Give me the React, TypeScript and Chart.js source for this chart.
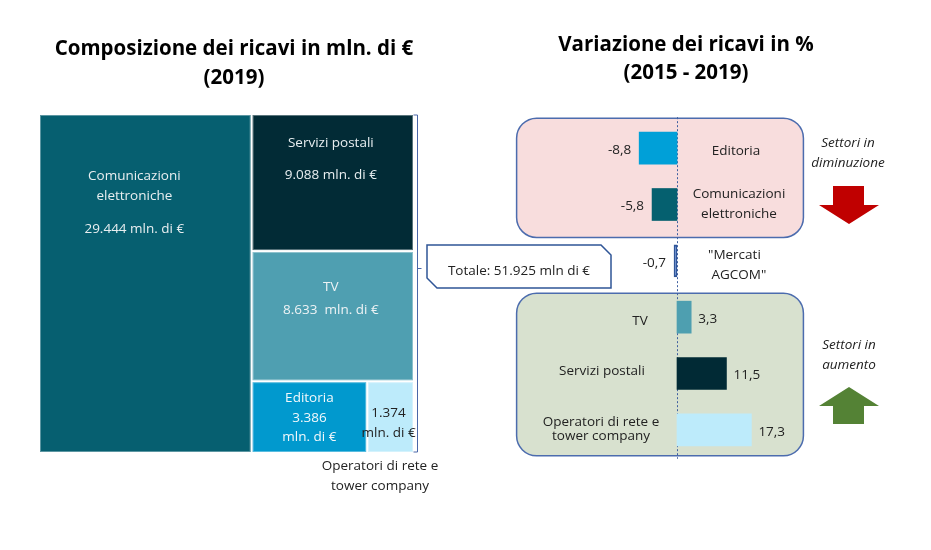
import React, { useEffect, useRef } from "react";
import { Chart, registerables } from "chart.js";

Chart.register(...registerables);

// ---------- DATA ----------
const treeLabels = ["Comunicazioni elettroniche", "Servizi postali", "TV", "Editoria", "Operatori di rete e tower company"];
const treeValues = [29444, 9088, 8633, 3386, 1374];
const treeColors = ["#065F70", "#022B36", "#4F9FB1", "#0199CE", "#BDEBFB"];
const treeTextColors = ["#E8EEF0", "#E8EEF0", "#EEF3F5", "#F2F8FB", "#222222"];

const varCategories = [
  ["Editoria"],
  ["Comunicazioni", "elettroniche"],
  ['"Mercati', ' AGCOM"'],
  ["TV"],
  ["Servizi postali"],
  ["Operatori di rete e", "tower company"],
];
const varValues = [-8.8, -5.8, -0.7, 3.3, 11.5, 17.3];
const varColors = ["#00A0D8", "#05606F", "#4A73C2", "#4E9FB0", "#012A35", "#BDEBFB"];
const varBorderColors = ["#00A0D8", "#05606F", "#2F5597", "#4E9FB0", "#012A35", "#BDEBFB"];

const title1 = ["Composizione dei ricavi in mln. di €", "(2019)"];
const title2 = ["Variazione dei ricavi in %", "(2015 - 2019)"];
const sideTextDown = ["Settori in", "diminuzione"];
const sideTextUp = ["Settori in", "aumento"];

// ---------- helpers ----------
const FONT = "'Open Sans', 'Noto Sans', sans-serif";
function fmtThousands(v: number): string {
  return String(v).replace(/\B(?=(\d{3})+(?!\d))/g, ".");
}
function fmtDec(v: number): string {
  return v.toFixed(1).replace(".", ",");
}

function treeCells(values: number[]) {
  const T = values.reduce((a, b) => a + b, 0);
  const a = values[0] / T;
  const rest = T - values[0];
  const y1 = values[1] / rest;
  const y2 = (values[1] + values[2]) / rest;
  const b = a + (1 - a) * (values[3] / (values[3] + values[4]));
  return [
    { x0: 0, x1: a, y0: 0, y1: 1 },
    { x0: a, x1: 1, y0: 0, y1: y1 },
    { x0: a, x1: 1, y0: y1, y1: y2 },
    { x0: a, x1: b, y0: y2, y1: 1 },
    { x0: b, x1: 1, y0: y2, y1: 1 },
  ];
}

// text layout within each treemap cell (offsets from cell top, x offset from cell center)
const cellTextLayout = [
  { dx: -11, ys: [61, 81, 114] },
  { dx: -2, ys: [28, 60] },
  { dx: -2, ys: [35, 58] },
  { dx: 0, ys: [16, 36, 55] },
  { dx: -2, ys: [31, 51] },
];

function roundRect(ctx: CanvasRenderingContext2D, x: number, y: number, w: number, h: number, r: number) {
  ctx.beginPath();
  ctx.moveTo(x + r, y);
  ctx.lineTo(x + w - r, y);
  ctx.arcTo(x + w, y, x + w, y + r, r);
  ctx.lineTo(x + w, y + h - r);
  ctx.arcTo(x + w, y + h, x + w - r, y + h, r);
  ctx.lineTo(x + r, y + h);
  ctx.arcTo(x, y + h, x, y + h - r, r);
  ctx.lineTo(x, y + r);
  ctx.arcTo(x, y, x + r, y, r);
  ctx.closePath();
}

export default function App() {
  const c1 = useRef<HTMLCanvasElement>(null);
  const c2 = useRef<HTMLCanvasElement>(null);

  useEffect(() => {
    document.body.style.margin = "0";
    document.body.style.overflow = "hidden";

    const treemapPlugin = {
      id: "treemap",
      afterDraw(chart: any) {
        const ctx = chart.ctx as CanvasRenderingContext2D;
        const xs = chart.scales.x;
        const ys = chart.scales.y;
        const cells = treeCells(treeValues);
        ctx.save();
        // titles
        ctx.fillStyle = "#000";
        ctx.textAlign = "center";
        ctx.textBaseline = "middle";
        ctx.font = `bold 20.5px ${FONT}`;
        ctx.fillText(title1[0], 234, 49);
        ctx.fillText(title1[1], 234, 78);

        cells.forEach((c, i) => {
          const x0 = xs.getPixelForValue(c.x0) + 1;
          const x1 = xs.getPixelForValue(c.x1) - 1;
          const y0 = ys.getPixelForValue(c.y0) + 1;
          const y1 = ys.getPixelForValue(c.y1) - 1;
          ctx.fillStyle = treeColors[i];
          ctx.fillRect(x0, y0, x1 - x0, y1 - y0);
          ctx.strokeStyle = "rgba(255,255,255,0.35)";
          ctx.lineWidth = 1;
          ctx.strokeRect(x0 + 0.5, y0 + 0.5, x1 - x0 - 1, y1 - y0 - 1);

          const valStr = fmtThousands(treeValues[i]);
          let lines: string[];
          if (i === 0) lines = ["Comunicazioni", "elettroniche", `${valStr} mln. di €`];
          else if (i === 1) lines = [treeLabels[1], `${valStr} mln. di €`];
          else if (i === 2) lines = [treeLabels[2], `${valStr}  mln. di €`];
          else if (i === 3) lines = [treeLabels[3], valStr, "mln. di €"];
          else lines = [valStr, "mln. di €"];
          const lay = cellTextLayout[i];
          const cx = (x0 + x1) / 2 + lay.dx;
          ctx.fillStyle = treeTextColors[i];
          ctx.font = `13.5px ${FONT}`;
          lines.forEach((ln, k) => ctx.fillText(ln, cx, y0 + lay.ys[k]));
        });

        // label below the small cell
        ctx.fillStyle = "#222";
        ctx.font = `13.5px ${FONT}`;
        ctx.fillText("Operatori di rete e", 380, 466);
        ctx.fillText("tower company", 380, 486);

        // bracket
        const top = ys.getPixelForValue(0) + 1;
        const bot = ys.getPixelForValue(1) - 1;
        const bx = xs.getPixelForValue(1) + 3.5;
        ctx.strokeStyle = "#4A67A8";
        ctx.lineWidth = 1;
        ctx.beginPath();
        ctx.moveTo(bx - 4, top);
        ctx.lineTo(bx, top);
        ctx.lineTo(bx, bot);
        ctx.lineTo(bx - 4, bot);
        ctx.moveTo(bx, 268.5);
        ctx.lineTo(bx + 4, 268.5);
        ctx.stroke();

        // total box
        const total = treeValues.reduce((a, b) => a + b, 0);
        ctx.beginPath();
        ctx.moveTo(427, 245);
        ctx.lineTo(601, 245);
        ctx.lineTo(611, 255);
        ctx.lineTo(611, 288);
        ctx.lineTo(437, 288);
        ctx.lineTo(427, 278);
        ctx.closePath();
        ctx.fillStyle = "#fff";
        ctx.fill();
        ctx.strokeStyle = "#2F5597";
        ctx.lineWidth = 1.5;
        ctx.stroke();
        ctx.fillStyle = "#222";
        ctx.font = `13.5px ${FONT}`;
        ctx.fillText(`Totale: ${fmtThousands(total)} mln di €`, 519, 271);
        ctx.restore();
      },
    };

    const chart1 = new Chart(c1.current!, {
      type: "scatter",
      data: { datasets: [{ data: [] }] },
      options: {
        responsive: false,
        animation: false,
        events: [],
        layout: { padding: { left: 39, top: 114, right: 931 - 414, bottom: 550 - 453 } },
        plugins: { legend: { display: false }, tooltip: { enabled: false } },
        scales: {
          x: { type: "linear", min: 0, max: 1, display: false },
          y: { type: "linear", min: 0, max: 1, reverse: true, display: false },
        },
      },
      plugins: [treemapPlugin],
    });

    const labelCenterX = [736, 739, 708, 640, 602, 601];
    const labelAlign: CanvasTextAlign[] = ["center", "center", "left", "center", "center", "center"];
    const labelLineH = [20, 20, 20, 20, 20, 14];
    const labelDy = [3, 0, 4, 4, -2, -1];

    const barPlugin = {
      id: "barDecor",
      beforeDatasetsDraw(chart: any) {
        const ctx = chart.ctx as CanvasRenderingContext2D;
        const xs = chart.scales.x;
        const ys = chart.scales.y;
        const left = xs.getPixelForValue(-37.3);
        const right = xs.getPixelForValue(29.4);
        ctx.save();
        // title
        ctx.fillStyle = "#000";
        ctx.textAlign = "center";
        ctx.textBaseline = "middle";
        ctx.font = `bold 20.5px ${FONT}`;
        ctx.fillText(title2[0], 686, 45);
        ctx.fillText(title2[1], 686, 73);

        // pink box (decreasing sectors)
        const pTop = ys.getPixelForValue(0) - 30;
        const pBot = ys.getPixelForValue(1) + 33;
        roundRect(ctx, left, pTop, right - left, pBot - pTop, 20);
        ctx.fillStyle = "#F8DDDD";
        ctx.fill();
        ctx.strokeStyle = "#4C6CAE";
        ctx.lineWidth = 1.5;
        ctx.stroke();
        // green box
        const gTop = ys.getPixelForValue(3) - 24;
        const gBot = ys.getPixelForValue(5) + 26;
        roundRect(ctx, left, gTop, right - left, gBot - gTop, 20);
        ctx.fillStyle = "#D8E1CF";
        ctx.fill();
        ctx.stroke();

        // zero line
        const zx = Math.round(xs.getPixelForValue(0)) + 0.5;
        ctx.beginPath();
        ctx.setLineDash([2, 2]);
        ctx.strokeStyle = "#3F5FA0";
        ctx.lineWidth = 1;
        ctx.moveTo(zx, pTop - 1);
        ctx.lineTo(zx, gBot + 3);
        ctx.stroke();
        ctx.setLineDash([]);
        ctx.restore();
      },
      afterDatasetsDraw(chart: any) {
        const ctx = chart.ctx as CanvasRenderingContext2D;
        const xs = chart.scales.x;
        const ys = chart.scales.y;
        ctx.save();
        ctx.textBaseline = "middle";
        ctx.font = `13.5px ${FONT}`;
        ctx.fillStyle = "#222";
        varValues.forEach((v, i) => {
          const y = ys.getPixelForValue(i) + 2;
          const xe = xs.getPixelForValue(v);
          if (v < 0) {
            ctx.textAlign = "right";
            ctx.fillText(fmtDec(v), xe - 8, y);
          } else {
            ctx.textAlign = "left";
            ctx.fillText(fmtDec(v), xe + 7, y);
          }
          // category label
          const lines = varCategories[i];
          const lh = labelLineH[i];
          const cy = ys.getPixelForValue(i) + labelDy[i];
          ctx.textAlign = labelAlign[i];
          lines.forEach((ln, k) => {
            ctx.fillText(ln, labelCenterX[i], cy + (k - (lines.length - 1) / 2) * lh);
          });
        });

        // side notes
        ctx.font = `italic 13.5px ${FONT}`;
        ctx.textAlign = "center";
        ctx.fillText(sideTextDown[0], 848, 143);
        ctx.fillText(sideTextDown[1], 848, 163);
        ctx.fillText(sideTextUp[0], 849, 345);
        ctx.fillText(sideTextUp[1], 849, 365);

        // down arrow
        ctx.fillStyle = "#C00000";
        ctx.beginPath();
        ctx.moveTo(833, 186);
        ctx.lineTo(864, 186);
        ctx.lineTo(864, 205);
        ctx.lineTo(879, 205);
        ctx.lineTo(849, 224);
        ctx.lineTo(819, 205);
        ctx.lineTo(833, 205);
        ctx.closePath();
        ctx.fill();
        // up arrow
        ctx.fillStyle = "#548235";
        ctx.beginPath();
        ctx.moveTo(849, 387);
        ctx.lineTo(879, 406);
        ctx.lineTo(864, 406);
        ctx.lineTo(864, 424);
        ctx.lineTo(833, 424);
        ctx.lineTo(833, 406);
        ctx.lineTo(819, 406);
        ctx.closePath();
        ctx.fill();
        ctx.restore();
      },
    };

    const chart2 = new Chart(c2.current!, {
      type: "bar",
      data: {
        labels: varCategories as any,
        datasets: [
          {
            data: varValues,
            backgroundColor: varColors,
            borderColor: varBorderColors,
            borderWidth: [0, 0, 1.5, 0, 0, 0],
            borderSkipped: false,
            barThickness: 32,
          },
        ],
      },
      options: {
        indexAxis: "y",
        responsive: false,
        animation: false,
        events: [],
        layout: { padding: { left: 548, top: 120, right: 931 - 806, bottom: 550 - 458 } },
        plugins: { legend: { display: false }, tooltip: { enabled: false } },
        scales: {
          x: { type: "linear", min: -30, max: 30, display: false },
          y: { type: "category", display: false },
        },
      },
      plugins: [barPlugin],
    });

    return () => {
      chart1.destroy();
      chart2.destroy();
    };
  }, []);

  const cs: React.CSSProperties = { position: "absolute", left: 0, top: 0, width: 931, height: 550 };
  return (
    <div style={{ position: "relative", width: 931, height: 550, background: "#fff" }}>
      <canvas ref={c1} width={931} height={550} style={cs} />
      <canvas ref={c2} width={931} height={550} style={cs} />
    </div>
  );
}
